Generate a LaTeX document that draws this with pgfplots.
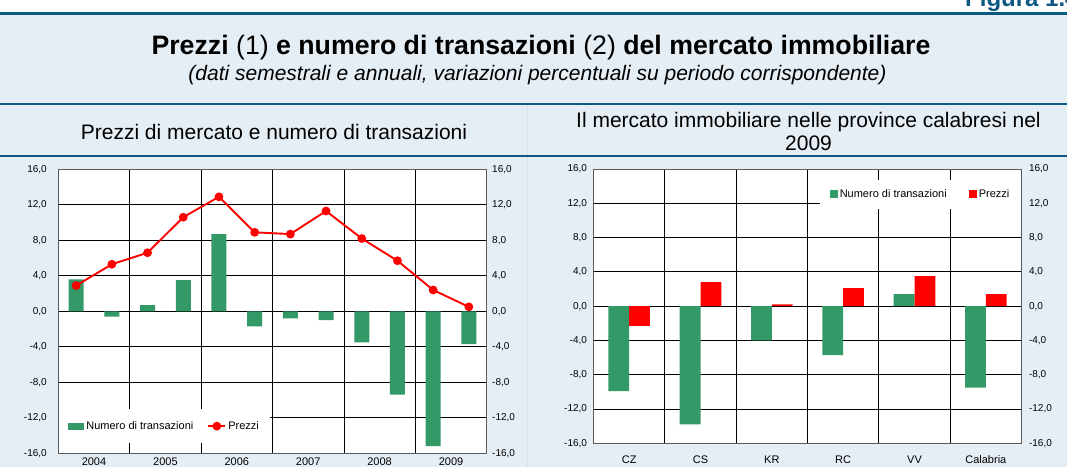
\documentclass[border=0pt]{standalone}
\usepackage{pgfplots}
\pgfplotsset{compat=1.18}
\usepackage{fontspec}
\setmainfont{Liberation Sans}
\definecolor{bgblue}{RGB}{230,238,245}
\definecolor{lineblue}{RGB}{13,89,130}
\definecolor{barg}{RGB}{51,153,102}
\definecolor{barr}{RGB}{255,0,0}
\definecolor{frame}{RGB}{90,90,90}
\definecolor{sep}{RGB}{216,226,236}

\pgfplotsset{
  numfmt/.style={
    /pgf/number format/assume math mode=true,
    /pgf/number format/fixed,
    /pgf/number format/fixed zerofill,
    /pgf/number format/precision=1,
    /pgf/number format/use comma,
  },
  refstyle/.style={
    scale only axis,
    ymin=-16, ymax=16,
    ytick={-16,-12,...,16},
    numfmt,
    yticklabel style={font=\fontsize{10}{12}\selectfont},
    xticklabel style={font=\fontsize{11}{13}\selectfont, inner sep=0pt, anchor=north},
    grid=major,
    major grid style={black, line width=0.75pt},
    axis line style={draw=frame, line width=1pt},
    tick style={draw=none},
    axis background/.style={fill=white},
  },
  rightlab/.style={
    scale only axis,
    ymin=-16, ymax=16,
    ytick={-16,-12,...,16},
    axis x line=none,
    axis y line*=right,
    y axis line style={draw=none},
    tick style={draw=none},
    numfmt,
    yticklabel style={font=\fontsize{10}{12}\selectfont},
  }
}

\begin{document}
\begin{tikzpicture}
\useasboundingbox (0pt,0pt) rectangle (1067pt,467pt);
\clip (0pt,0pt) rectangle (1067pt,467pt);
\fill[white] (0pt,0pt) rectangle (1067pt,467pt);
\fill[bgblue] (0pt,0pt) rectangle (1067pt,453.7pt);
\draw[sep, line width=1pt] (527pt,0pt) -- (527pt,363pt);
\draw[lineblue, line width=3pt] (0pt,453.7pt) -- (1067pt,453.7pt);
\draw[lineblue, line width=2pt] (0pt,363pt) -- (1067pt,363pt);
\draw[lineblue, line width=2.5pt] (0pt,311pt) -- (1067pt,311pt);
\node[anchor=base west, font=\fontsize{24}{28}\selectfont\bfseries, text=lineblue, inner sep=0pt] at (965pt,460pt) {Figura 1.4};
\node[anchor=base, inner sep=0pt, font=\fontsize{26.7}{31}\selectfont] at (541pt,412pt) {\textbf{Prezzi} (1) \textbf{e numero di transazioni} (2) \textbf{del mercato immobiliare}};
\node[anchor=base, inner sep=0pt, font=\fontsize{21}{25}\selectfont\itshape] at (537.5pt,387pt) {(dati semestrali e annuali, variazioni percentuali su periodo corrispondente)};
\node[anchor=base, inner sep=0pt, font=\fontsize{21}{25}\selectfont] at (274pt,328pt) {Prezzi di mercato e numero di transazioni};
\node[anchor=base, inner sep=0pt, font=\fontsize{21}{25}\selectfont] at (808.5pt,340pt) {Il mercato immobiliare nelle province calabresi nel};
\node[anchor=base, inner sep=0pt, font=\fontsize{21}{25}\selectfont] at (808.5pt,317pt) {2009};

% ---------------- Left chart ----------------
\begin{axis}[refstyle,
  at={(58.3pt,13.7pt)}, anchor=south west,
  width=428.4pt, height=284pt,
  xmin=0, xmax=12,
  xtick={0,2,...,12}, xticklabels={},
  extra x ticks={1,3,5,7,9,11},
  extra x tick labels={2004,2005,2006,2007,2008,2009},
  extra x tick style={grid=none, xticklabel style={yshift=-4pt}},
  yticklabel style={xshift=-8pt},
  legend style={at={(0.002,0.036)}, anchor=south west, draw=none, fill=white,
    legend columns=2, font=\fontsize{11}{13}\selectfont,
    inner xsep=9pt, inner ysep=10pt,
    /tikz/every even column/.append style={column sep=12pt}},
]
\addplot[ybar, bar width=15pt, fill=barg, draw=none,
  legend image code/.code={\fill[barg] (0pt,-3.5pt) rectangle (16pt,3.5pt);}]
  coordinates {(0.5,3.6) (1.5,-0.6) (2.5,0.7) (3.5,3.5) (4.5,8.7) (5.5,-1.7)
               (6.5,-0.8) (7.5,-1.0) (8.5,-3.5) (9.5,-9.4) (10.5,-15.2) (11.5,-3.7)};
\addlegendentry{Numero di transazioni}
\addplot[barr, line width=1.9pt, mark=*, mark size=3.4pt, mark options={fill=barr, draw=barr, solid}]
  coordinates {(0.5,2.9) (1.5,5.3) (2.5,6.6) (3.5,10.6) (4.5,12.9) (5.5,8.9)
               (6.5,8.7) (7.5,11.3) (8.5,8.2) (9.5,5.7) (10.5,2.4) (11.5,0.5)};
\addlegendentry{Prezzi}
\end{axis}
\begin{axis}[rightlab,
  at={(58.3pt,13.7pt)}, anchor=south west,
  width=428.4pt, height=284pt,
  xmin=0, xmax=12,
  yticklabel style={xshift=2pt},
]
\addplot[draw=none] coordinates {(0,0)};
\end{axis}

% ---------------- Right chart ----------------
\begin{axis}[refstyle,
  at={(593.5pt,23.7pt)}, anchor=south west,
  width=428pt, height=274.3pt,
  xmin=-0.5, xmax=5.5,
  xtick={-0.5,0.5,...,5.5}, xticklabels={},
  extra x ticks={0,1,2,3,4,5},
  extra x tick labels={CZ,CS,KR,RC,VV,Calabria},
  extra x tick style={grid=none, xticklabel style={yshift=-12pt}},
  yticklabel style={xshift=-3pt},
  legend style={at={(1,0.962)}, anchor=north east, draw=none, fill=white,
    legend columns=2, font=\fontsize{11}{13}\selectfont,
    inner xsep=10pt, inner ysep=8pt,
    /tikz/every even column/.append style={column sep=20pt}},
]
\addplot[ybar, bar width=20.8pt, bar shift=-10.4pt, fill=barg, draw=none,
  legend image code/.code={\fill[barg] (0pt,-4pt) rectangle (8pt,4pt);}]
  coordinates {(0,-9.9) (1,-13.8) (2,-4.0) (3,-5.7) (4,1.4) (5,-9.5)};
\addlegendentry{Numero di transazioni}
\addplot[ybar, bar width=20.8pt, bar shift=10.4pt, fill=barr, draw=none,
  legend image code/.code={\fill[barr] (0pt,-4pt) rectangle (8pt,4pt);}]
  coordinates {(0,-2.3) (1,2.8) (2,0.2) (3,2.1) (4,3.5) (5,1.4)};
\addlegendentry{Prezzi}
\end{axis}
\begin{axis}[rightlab,
  at={(593.5pt,23.7pt)}, anchor=south west,
  width=428pt, height=274.3pt,
  xmin=-0.5, xmax=5.5,
  yticklabel style={xshift=4pt},
]
\addplot[draw=none] coordinates {(0,0)};
\end{axis}
\end{tikzpicture}
\end{document}
